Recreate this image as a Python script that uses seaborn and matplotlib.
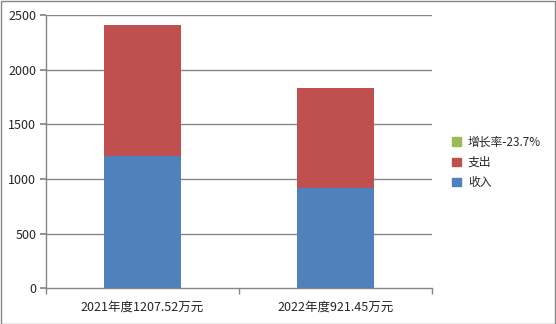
import matplotlib
matplotlib.use("Agg")
import matplotlib.pyplot as plt
import seaborn as sns
import pandas as pd
from matplotlib.patches import Patch, Rectangle

categories = ["2021年度1207.52万元", "2022年度921.45万元"]
income = [1207.52, 921.45]
expense = [1203.0, 913.0]
growth_label = "增长率-23.7%"
y_ticks = [0, 500, 1000, 1500, 2000, 2500]

sns.set_theme(style="white")
plt.rcParams['font.family'] = ['Noto Sans CJK SC', 'DejaVu Sans']

df = pd.DataFrame({"cat": categories, "income": income,
                   "total": [a + b for a, b in zip(income, expense)]})

fig = plt.figure(figsize=(5.56, 3.24), dpi=100)
ax = fig.add_axes([46/556, 1 - 288.3/324, (432-46)/556, (288.3-15)/324])

grid_c = "#868686"
ax.set_axisbelow(True)
for t in y_ticks[1:]:
    ax.axhline(t, color=grid_c, lw=1, zorder=0)

sns.barplot(data=df, x="cat", y="total", color="#C0504D", width=0.4,
            saturation=1, ax=ax, zorder=2, linewidth=0, edgecolor="none")
sns.barplot(data=df, x="cat", y="income", color="#4F81BD", width=0.4,
            saturation=1, ax=ax, zorder=3, linewidth=0, edgecolor="none")

ax.set_xlim(-0.5, 1.5)
ax.set_ylim(0, 2500)
ax.set_yticks(y_ticks)
ax.set_xlabel("")
ax.set_ylabel("")
ax.set_xticks([0, 1])
ax.set_xticklabels(categories, fontsize=9)
ax.set_xticks([-0.5, 0.5, 1.5], minor=True)
ax.tick_params(axis="x", which="major", length=0, pad=9)
ax.tick_params(axis="x", which="minor", length=4, color=grid_c, direction="out", bottom=True)
ax.tick_params(axis="y", which="major", length=4, color=grid_c, direction="out", left=True, labelsize=9, pad=3)
for s in ["top", "right"]:
    ax.spines[s].set_visible(False)
for s in ["left", "bottom"]:
    ax.spines[s].set_color(grid_c)
    ax.spines[s].set_linewidth(1)

handles = [Patch(color="#9BBB59", label=growth_label),
           Patch(color="#C0504D", label="支出"),
           Patch(color="#4F81BD", label="收入")]
fig.legend(handles=handles, loc="center left", bbox_to_anchor=(446/556, 1 - 162.5/324),
           frameon=False, fontsize=8.5, handlelength=0.75, handleheight=0.75,
           handletextpad=0.6, labelspacing=0.6, borderpad=0)

fig.patches.append(Rectangle((0.5/556, 0.5/324), 1 - 1.5/556, 1 - 1.5/324,
                             transform=fig.transFigure, fill=False,
                             edgecolor="#868686", lw=1))

fig.savefig("out.png", dpi=100)
